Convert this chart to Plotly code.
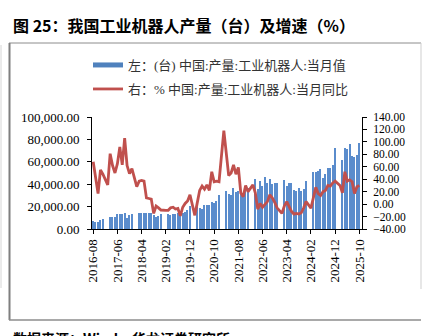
import plotly.graph_objects as go
import pandas as pd

months = [d.strftime("%Y-%m") for d in pd.date_range("2016-08-01", "2025-10-01", freq="MS")]

output_units = [
    7000, 6200, 6000, 7800, 8500,
    None, None, 10700, 10400, 10700, 13400, 13400, 13400, 14000, 10100, 12200, 13400,
    None, None, 14600, 14600, 14600, 14600, 14600, 14600, 12500, 10500, 12000, 13000,
    None, None, 13500, 12500, 13000, 13500, 14000, 12500, 14000, 15200, 16700, 20500,
    None, None, 19300, 18500, 17600, 21400, 21400, 21400, 23800, 22900, 25000, 30400,
    None, None, 33900, 31000, 30400, 36900, 32700, 34000, 31000, 29500, 34800, 36300,
    None, None, 45000, 36000, 43000, 38000, 46000, 41000, 45000, 40000, 41000, 41000,
    None, None, 44000, 38700, 40800, 40800, 34800, 34000, 36300, 34000, 36000, 42900,
    None, None, 51200, 50600, 51800, 53300, 45200, 48800, 54800, 54200, 57000, 72600,
    None, None, 62000, 72000, 71000, 76000, 65000, 64000, 66000, 77000,
]

yoy_pct = [
    68, 42, 17, 55, 48,
    None, 31, 81, 62, 50, 65, 92, 63, 106, 62, 49, 57,
    None, 28, 37, 38, 37, 10, 9, 8, -15, -3, -6, -9.5,
    None, -10, -10, -6, -5, -8, -7, -19, -5, 1, 5, 15,
    None, -18, 2, 22, 29, 24, 31, 22, 52, 36, 37, 36,
    None, 118, 80, 46, 50, 63, 48, 59, 18, 12, 30, 20,
    None, 31, 18, -8, 1, -5, 0, 4, 15, 10, 3, -6,
    None, -15, -3, 4, -4, -12, -16, -15, -16, -14, -6, 4,
    None, -6.5, 12, 27, 17, 14, 20, 22, 30, 29, 34, 37,
    None, 30, 18, 52, 37, 39, 36, 17, 28, 30,
]

left_ticks = [0, 20000, 40000, 60000, 80000, 100000]
right_ticks = [-40, -20, 0, 20, 40, 60, 80, 100, 120, 140]
label_step = 10

title_text = "图 25：我国工业机器人产量（台）及增速（%）"
bar_name = "左：(台) 中国:产量:工业机器人:当月值"
line_name = "右：% 中国:产量:工业机器人:当月同比"
source_text = "数据来源：Wind，华龙证券研究所"

idx = list(range(len(months)))
tickvals = idx[::label_step]
ticktext = months[::label_step]

BLUE = "#5a8ccc"
RED = "#c0504d"
SERIF = "Liberation Serif, Times New Roman, Noto Sans CJK SC, serif"
CJK = "Noto Sans CJK SC, sans-serif"

# plot area in pixels
L, R, T, B = 92, 362, 117, 229
W, H = 432, 336


def px(x):
    return (x - L) / (R - L)


def py(y):
    return (B - y) / (B - T)


fig = go.Figure()
fig.add_trace(go.Bar(x=idx, y=output_units, marker=dict(color=BLUE, line=dict(width=0)),
                     width=0.55, showlegend=False, yaxis="y", name=bar_name))
fig.add_trace(go.Scatter(x=idx, y=yoy_pct, mode="lines", connectgaps=True,
                         line=dict(color=RED, width=2.8), yaxis="y2", name=line_name,
                         legend="legend2"))
# legend proxy for the bars
fig.add_trace(go.Scatter(x=[None], y=[None], mode="lines", line=dict(color="#4f81bd", width=5),
                         name=bar_name, legend="legend"))

axis_font = dict(family=SERIF, size=13, color="black")
right_font = dict(family=SERIF, size=11.5, color="black")

fig.update_layout(
    width=W, height=H,
    margin=dict(l=L, r=W - R, t=T, b=H - B, pad=0),
    paper_bgcolor="white", plot_bgcolor="white",
    bargap=0,
    xaxis=dict(range=[-0.5, 111.1], tickmode="array", tickvals=tickvals, ticktext=ticktext,
               tickangle=-90, ticks="outside", ticklen=4, tickcolor="black",
               showline=True, linecolor="black", linewidth=1, showgrid=False, zeroline=False,
               tickfont=axis_font),
    yaxis=dict(range=[0, 100000], tickvals=left_ticks, tickformat=",.2f",
               ticks="outside", ticklen=4, tickcolor="black", showline=True, linecolor="black",
               linewidth=1, showgrid=False, zeroline=False, tickfont=axis_font,
               ticklabelstandoff=5),
    yaxis2=dict(range=[-40, 140], tickvals=right_ticks, tickformat=".2f", overlaying="y",
                side="right", ticks="outside", ticklen=4, tickcolor="black", showline=True,
                linecolor="black", linewidth=1, showgrid=False, zeroline=False,
                tickfont=right_font, ticklabelstandoff=4),
    legend=dict(x=px(88), y=py(65), xanchor="left", yanchor="middle",
                font=dict(family=SERIF, size=13, color="#333333"), bgcolor="rgba(0,0,0,0)",
                itemwidth=30),
    legend2=dict(x=px(88), y=py(89), xanchor="left", yanchor="middle",
                 font=dict(family=SERIF, size=13, color="#333333"), bgcolor="rgba(0,0,0,0)",
                 itemwidth=30),
)

fig.add_annotation(text="<b>" + title_text + "</b>", xref="paper", yref="paper",
                   x=px(11), y=py(25), xanchor="left", yanchor="middle", showarrow=False,
                   font=dict(family=CJK, size=16, color="black"))
fig.add_annotation(text="<b>" + source_text + "</b>", xref="paper", yref="paper",
                   x=px(11), y=py(338), xanchor="left", yanchor="middle", showarrow=False,
                   font=dict(family=CJK, size=14, color="black"))

frame = [
    (9, 43, 421, 43, "#8c8c8c", 1),
    (9.5, 43, 9.5, 320, "#7f7f7f", 2),
    (421, 43, 421, 289, "#cfcfcf", 1),
    (9, 320, 421, 320, "#8c8c8c", 1.5),
    (1, 45, 1, 288, "#d6d6d6", 1),
]
for x0, y0, x1, y1, c, w in frame:
    fig.add_shape(type="line", xref="paper", yref="paper", x0=px(x0), y0=py(y0),
                  x1=px(x1), y1=py(y1), line=dict(color=c, width=w), layer="above")

fig.write_html("out.html")
